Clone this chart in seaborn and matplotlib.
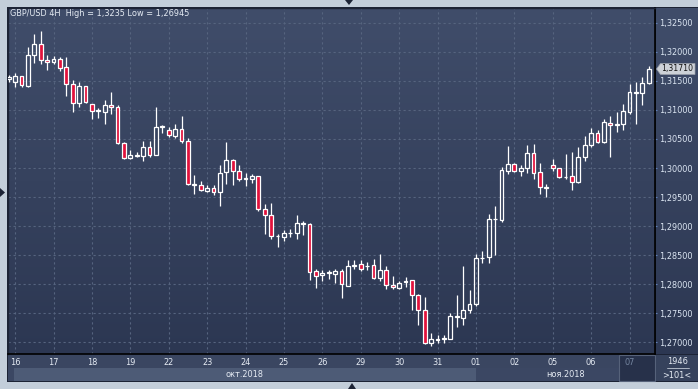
import numpy as np
import pandas as pd
import matplotlib
matplotlib.use("Agg")
import matplotlib.pyplot as plt
import matplotlib.transforms as mtransforms
from matplotlib.patches import Rectangle, Polygon
from matplotlib.colors import LinearSegmentedColormap
from matplotlib.ticker import FuncFormatter
import seaborn as sns

# GBP/USD 4H bars: last bar of 15 Oct, then 16 Oct .. 07 Nov 2018
opens = [1.31527, 1.31486, 1.31584, 1.31417, 1.31940, 1.32134, 1.31854, 1.31819, 1.31871, 1.31733,
         1.31441, 1.31114, 1.31412, 1.31097, 1.30990, 1.30970, 1.31080, 1.31045, 1.30426, 1.30168,
         1.30211, 1.30203, 1.30363, 1.30230, 1.30705, 1.30655, 1.30557, 1.30667, 1.30471, 1.29712,
         1.29704, 1.29611, 1.29651, 1.29583, 1.29927, 1.30134, 1.29955, 1.29810, 1.29807, 1.29859,
         1.29301, 1.29198, 1.28825, 1.28809, 1.28878, 1.28878, 1.29040, 1.29043, 1.28230, 1.28156,
         1.28193, 1.28183, 1.28230, 1.27977, 1.28318, 1.28350, 1.28312, 1.28328, 1.28115, 1.28242,
         1.27984, 1.27943, 1.28040, 1.28070, 1.27812, 1.27564, 1.26997, 1.27050, 1.27060, 1.27065,
         1.27442, 1.27427, 1.27554, 1.27657, 1.28448, 1.28465, 1.29119, 1.29107, 1.29955, 1.30070,
         1.29955, 1.29996, 1.30254, 1.29927, 1.29660, 1.30048, 1.29996, 1.29841, 1.29859, 1.29766,
         1.30185, 1.30392, 1.30609, 1.30443, 1.30770, 1.30741, 1.30758, 1.30965, 1.31295, 1.31286,
         1.31469]
highs = [1.31601, 1.31641, 1.31590, 1.32088, 1.32306, 1.32350, 1.31945, 1.31928, 1.31905, 1.31916,
         1.31515, 1.31481, 1.31420, 1.31105, 1.31028, 1.31171, 1.31309, 1.31080, 1.30443, 1.30311,
         1.30277, 1.30466, 1.30466, 1.31051, 1.30746, 1.30701, 1.30758, 1.30896, 1.30512, 1.29876,
         1.29778, 1.29704, 1.29704, 1.30048, 1.30449, 1.30151, 1.30053, 1.29910, 1.29898, 1.29865,
         1.29382, 1.29399, 1.28861, 1.28935, 1.28947, 1.29193, 1.29090, 1.29050, 1.28264, 1.28242,
         1.28247, 1.28264, 1.28264, 1.28419, 1.28414, 1.28419, 1.28380, 1.28436, 1.28527, 1.28316,
         1.28144, 1.28058, 1.28121, 1.28075, 1.27829, 1.27777, 1.27158, 1.27129, 1.27124, 1.27502,
         1.27812, 1.28316, 1.27903, 1.28522, 1.28574, 1.29210, 1.29348, 1.30015, 1.30380, 1.30082,
         1.30053, 1.30397, 1.30414, 1.30082, 1.29726, 1.30151, 1.30000, 1.30242, 1.30277, 1.30357,
         1.30552, 1.30689, 1.30650, 1.30849, 1.30896, 1.30965, 1.31097, 1.31446, 1.31486, 1.31561,
         1.31756]
lows = [1.31481, 1.31400, 1.31400, 1.31400, 1.31813, 1.31785, 1.31687, 1.31785, 1.31675, 1.31245,
        1.30970, 1.31056, 1.31114, 1.30849, 1.30856, 1.30753, 1.30925, 1.30409, 1.30156, 1.30151,
        1.30185, 1.30117, 1.30185, 1.30220, 1.30598, 1.30529, 1.30522, 1.30437, 1.29704, 1.29559,
        1.29610, 1.29589, 1.29542, 1.29353, 1.29721, 1.29704, 1.29783, 1.29697, 1.29738, 1.29267,
        1.28871, 1.28775, 1.28648, 1.28751, 1.28820, 1.28785, 1.28849, 1.28075, 1.27937, 1.28058,
        1.28092, 1.28029, 1.27765, 1.27970, 1.28259, 1.28235, 1.28242, 1.28087, 1.28063, 1.27925,
        1.27925, 1.27925, 1.27960, 1.27554, 1.27301, 1.26979, 1.26945, 1.26997, 1.26997, 1.27055,
        1.27272, 1.27301, 1.27513, 1.27633, 1.28362, 1.28373, 1.28505, 1.29078, 1.29898, 1.29938,
        1.29864, 1.29921, 1.29812, 1.29559, 1.29508, 1.29945, 1.29836, 1.29817, 1.29623, 1.29749,
        1.30113, 1.30368, 1.30430, 1.30430, 1.30196, 1.30626, 1.30655, 1.30925, 1.30753, 1.31080,
        1.31451]
closes = [1.31561, 1.31584, 1.31424, 1.31945, 1.32134, 1.31859, 1.31819, 1.31871, 1.31716, 1.31441,
          1.31114, 1.31412, 1.31131, 1.30982, 1.30996, 1.31080, 1.31045, 1.30426, 1.30168, 1.30220,
          1.30215, 1.30363, 1.30230, 1.30701, 1.30712, 1.30564, 1.30672, 1.30471, 1.29721, 1.29714,
          1.29618, 1.29657, 1.29583, 1.29910, 1.30134, 1.29955, 1.29817, 1.29812, 1.29859, 1.29301,
          1.29198, 1.28832, 1.28827, 1.28878, 1.28882, 1.29055, 1.29043, 1.28218, 1.28149, 1.28201,
          1.28195, 1.28230, 1.28001, 1.28311, 1.28328, 1.28269, 1.28316, 1.28115, 1.28242, 1.27984,
          1.27949, 1.28018, 1.28046, 1.27812, 1.27564, 1.26997, 1.27055, 1.27055, 1.27065, 1.27451,
          1.27444, 1.27554, 1.27662, 1.28448, 1.28459, 1.29119, 1.29122, 1.29962, 1.30070, 1.29955,
          1.29996, 1.30254, 1.29921, 1.29669, 1.29662, 1.29996, 1.29841, 1.29847, 1.29766, 1.30185,
          1.30392, 1.30609, 1.30440, 1.30787, 1.30741, 1.30746, 1.30977, 1.31303, 1.31297, 1.31458,
          1.31710]

day_labels = ["16", "17", "18", "19", "22", "23", "24", "25", "26", "29", "30", "31",
              "01", "02", "05", "06", "07"]
month_labels = ["окт.2018", "ноя.2018"]
price_ticks = [1.270, 1.275, 1.280, 1.285, 1.290, 1.295, 1.300, 1.305, 1.310, 1.315, 1.320, 1.325]
title_text = "GBP/USD 4H  High = 1,3235 Low = 1,26945"
last_price = "1,31710"
bars_per_day = 6

df = pd.DataFrame({"open": opens, "high": highs, "low": lows, "close": closes})
df["idx"] = np.arange(len(df))
df["up"] = df["close"] >= df["open"]
df["top"] = df[["open", "close"]].max(axis=1)
df["bot"] = df[["open", "close"]].min(axis=1)

sns.set_theme(style="dark")
plt.rcParams["font.family"] = ["DejaVu Sans"]

W, H = 698, 389
fig = plt.figure(figsize=(W / 100, H / 100), dpi=100)
fig.patch.set_facecolor("#c3ceda")


def fx(x):
    return x / W


def fy(y):
    return 1 - y / H


def px_rect(x0, y0, x1, y1, z=0, **kw):
    r = Rectangle((fx(x0), fy(y1)), fx(x1) - fx(x0), fy(y0) - fy(y1),
                  transform=fig.transFigure, zorder=z, **kw)
    fig.patches.append(r)
    return r


grad = LinearSegmentedColormap.from_list("bg", ["#404d6a", "#2c3752"])
gvals = np.linspace(0, 1, 256).reshape(-1, 1)

# outer dark frame and axis rows (behind the axes)
px_rect(7, 7, 698, 382, z=-2, facecolor="#1c2335", edgecolor="none")
px_rect(8, 354, 655, 368, z=-1, facecolor="#3a4661", edgecolor="none")
px_rect(8, 368, 476, 381, z=-1, facecolor="#4d5b76", edgecolor="none")
px_rect(8, 368, 14, 381, z=-1, facecolor="#3b4763", edgecolor="none")
px_rect(476, 368, 655, 381, z=-1, facecolor="#3b4763", edgecolor="none")
px_rect(619, 355, 655, 381, z=-1, facecolor="#27314a", edgecolor="#56627a", linewidth=0.8)
px_rect(656, 355, 698, 381, z=-1, facecolor="#36425c", edgecolor="none")

# right price-scale panel
axr = fig.add_axes([fx(656), fy(354), fx(698) - fx(656), fy(8) - fy(354)])
axr.imshow(gvals, cmap=grad, aspect="auto", extent=[0, 1, 0, 1], origin="upper")
axr.set_axis_off()
axr.set_zorder(1)

# main chart
ax = fig.add_axes([fx(8), fy(354), fx(655) - fx(8), fy(8) - fy(354)])
ax.set_zorder(2)
x_lo, x_hi = -0.11, 100.98
y_lo, y_hi = 1.26802, 1.32753
ax.imshow(gvals, cmap=grad, aspect="auto", extent=[x_lo, x_hi, y_lo, y_hi],
          origin="upper", zorder=0)
ax.set_xlim(x_lo, x_hi)
ax.set_ylim(y_lo, y_hi)

day_pos = [1 + bars_per_day * k for k in range(len(day_labels))]
ax.set_xticks(day_pos)
ax.set_xticklabels([])
ax.set_yticks(price_ticks)
ax.grid(True, color="#56647f", linewidth=0.8, linestyle=(0, (2, 2.5)))
ax.set_axisbelow(True)

ax.yaxis.tick_right()
ax.yaxis.set_major_formatter(FuncFormatter(lambda v, p: f"{v:.5f}".replace(".", ",")))
ax.tick_params(axis="y", which="both", length=1.5, pad=1.2, width=0.8,
               color="#5f7fb8", labelcolor="#dce6f3", labelsize=5.9, right=True, left=False)
ax.tick_params(axis="x", length=0)
for side in ["left", "top"]:
    ax.spines[side].set_color("#1c2335")
    ax.spines[side].set_linewidth(1)
for side in ["right", "bottom"]:
    ax.spines[side].set_color("#000000")
    ax.spines[side].set_linewidth(1.2)

# candles
body_w = 0.6
wick_lw = 0.9
ax.vlines(df["idx"], df["top"], df["high"], color="white", linewidth=wick_lw, zorder=3)
ax.vlines(df["idx"], df["low"], df["bot"], color="white", linewidth=wick_lw, zorder=3)
heights = np.maximum(df["top"] - df["bot"], 0.00012)
face = np.where(df["up"], "none", "#e2123c")
ax.bar(df["idx"], heights, bottom=df["bot"], width=body_w, color=face,
       edgecolor="white", linewidth=0.9, zorder=4)

# title
fig.text(fx(10), fy(14), title_text, color="#e6ecf4", fontsize=5.9, va="center", ha="left")

# date labels
date_tr = mtransforms.blended_transform_factory(ax.transData, fig.transFigure)
for pos, lab in zip(day_pos, day_labels):
    col = "#7586a0" if lab == "07" else "#e6ecf4"
    ax.text(pos, fy(362.5), lab, transform=date_tr, color=col, fontsize=5.9,
            ha="center", va="center")
fig.text(fx(245), fy(374.5), month_labels[0], color="#e6ecf4", fontsize=5.9,
         ha="center", va="center")
fig.text(fx(566), fy(374.5), month_labels[1], color="#e6ecf4", fontsize=5.9,
         ha="center", va="center")

# corner box
fig.text(fx(677), fy(362), "1946", color="#e6ecf4", fontsize=5.9, ha="center", va="center")
fig.text(fx(677), fy(375), ">101<", color="#e6ecf4", fontsize=5.9, ha="center", va="center")
fig.lines.append(plt.Line2D([fx(667), fx(689)], [fy(368.3), fy(368.3)],
                            transform=fig.transFigure, color="#c0c8d4", linewidth=0.6))

# last price marker
fig.patches.append(Polygon([(fx(656.5), fy(69)), (fx(660.5), fy(63.5)), (fx(695), fy(63.5)),
                            (fx(695), fy(74.5)), (fx(660.5), fy(74.5))], closed=True,
                           transform=fig.transFigure, facecolor="#cdd1d7",
                           edgecolor="#9aa0aa", linewidth=0.5, zorder=5))
fig.text(fx(677.5), fy(69), last_price, color="#111111", fontsize=5.6, ha="center",
         va="center", zorder=6)

# small scroll arrows
for pts in ([(345, 0), (353, 0), (349, 5)], [(348, 389), (356, 389), (352, 383)],
            [(0, 188), (0, 197), (5, 192.5)]):
    fig.patches.append(Polygon([(fx(a), fy(b)) for a, b in pts], closed=True,
                               transform=fig.transFigure, facecolor="#1c2335",
                               edgecolor="none", zorder=5))

fig.savefig("out.png", dpi=100, facecolor=fig.get_facecolor())
